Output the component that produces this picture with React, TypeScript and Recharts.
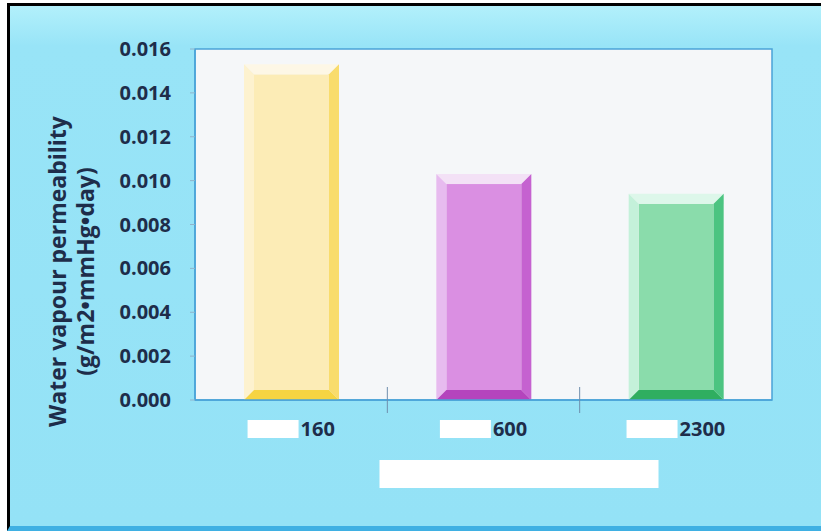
import { BarChart, Bar, XAxis, YAxis, CartesianGrid, ReferenceArea } from 'recharts'

const categories = ['160', '600', '2300']
const permeability = [0.0153, 0.0103, 0.0094]
const yTicks = [0, 0.002, 0.004, 0.006, 0.008, 0.01, 0.012, 0.014, 0.016]
const yTitle = ['Water vapour permeability', '(g/m2\u2022mmHg\u2022day)']

// bevelled bar colours: body, top, left, right, bottom
const BAR_STYLES = [
  { body: '#fcecb6', top: '#fdf7e6', left: '#fdf2cf', right: '#f9dc6c', bottom: '#f6d442' }, // yellow
  { body: '#da8fe2', top: '#f3e1f6', left: '#e7bbef', right: '#c562d0', bottom: '#b444bd' }, // purple
  { body: '#8adcab', top: '#ddf7ea', left: '#c4f1da', right: '#4cc481', bottom: '#2fae60' }, // green
]

const INK = '#1e2d4a'
const FONT = '"Open Sans", sans-serif'
const BLUE_LINE = '#4aa3d8'

const data = categories.map((name, i) => ({ name, value: permeability[i] }))

function BevelBar(props: any) {
  const { x, y, width: w, height: h, index } = props
  const c = BAR_STYLES[index % BAR_STYLES.length]
  const b = 10
  return (
    <g>
      <rect x={x + b} y={y + b} width={w - 2 * b} height={h - 2 * b} fill={c.body} />
      <polygon points={`${x},${y} ${x + w},${y} ${x + w - b},${y + b} ${x + b},${y + b}`} fill={c.top} />
      <polygon points={`${x},${y} ${x + b},${y + b} ${x + b},${y + h - b} ${x},${y + h}`} fill={c.left} />
      <polygon points={`${x + w},${y} ${x + w},${y + h} ${x + w - b},${y + h - b} ${x + w - b},${y + b}`} fill={c.right} />
      <polygon points={`${x},${y + h} ${x + b},${y + h - b} ${x + w - b},${y + h - b} ${x + w},${y + h}`} fill={c.bottom} />
    </g>
  )
}

function CategoryTick(props: any) {
  const { x, y, payload, index } = props
  const label = String(payload.value)
  const half = payload.offset ?? 96
  const boxW = 51
  const textW = label.length * 11.4
  const start = x - (boxW + 2 + textW) / 2
  return (
    <g>
      {index > 0 && <line x1={x - half} x2={x - half} y1={y - 13} y2={y + 13} stroke="#6f8fae" strokeWidth={1} />}
      <rect x={start} y={y + 20} width={boxW} height={18} fill="#ffffff" />
      <text x={start + boxW + 2} y={y + 36} fontSize={20} fontWeight={700} fontFamily={FONT} fill={INK}>
        {label}
      </text>
    </g>
  )
}

function YTitle(props: any) {
  const { viewBox } = props
  const cy = viewBox.y + viewBox.height / 2 + 47
  return (
    <g>
      {yTitle.map((line, i) => {
        const tx = 66 + i * 28
        return (
          <text
            key={line}
            x={tx}
            y={cy}
            transform={`rotate(-90 ${tx} ${cy})`}
            textAnchor="middle"
            fontSize={23}
            fontWeight={700}
            fontFamily={FONT}
            fill={INK}
          >
            {line}
          </text>
        )
      })}
    </g>
  )
}

function XTitleBox(props: any) {
  const { viewBox } = props
  return <rect x={viewBox.x + viewBox.width / 2 - 104} y={viewBox.y + 60} width={279} height={28} fill="#ffffff" />
}

export default function App() {
  return (
    <div style={{ position: 'absolute', left: 0, top: 0, width: 821, height: 531, background: '#ffffff' }}>
      <div
        style={{
          position: 'absolute',
          left: 7,
          top: 3,
          width: 811,
          height: 520,
          borderTop: '3px solid #000',
          borderLeft: '3px solid #000',
          borderRight: '3px solid #3fb0e3',
          borderBottom: '5px solid #3fb0e3',
          background: 'linear-gradient(180deg, #b2f0fb 0px, #98e4f7 40px, #94e2f6 100%)',
        }}
      />
      <div style={{ position: 'absolute', left: 0, top: 0 }}>
        <BarChart width={821} height={531} data={data} margin={{ top: 49, right: 49, bottom: 0, left: 0 }} barSize={95}>
          <CartesianGrid fill="#f5f7f9" horizontal={false} vertical={false} />
          <ReferenceArea y1={0} y2={0.016} fill="none" stroke={BLUE_LINE} strokeWidth={1.5} />
          <XAxis
            dataKey="name"
            height={131}
            axisLine={{ stroke: BLUE_LINE, strokeWidth: 1.5 }}
            tickLine={false}
            tickSize={0}
            tickMargin={0}
            tick={<CategoryTick />}
            label={<XTitleBox />}
          />
          <YAxis
            width={195}
            domain={[0, 0.016]}
            ticks={yTicks}
            tickFormatter={(v: number) => v.toFixed(3)}
            axisLine={{ stroke: BLUE_LINE, strokeWidth: 1.5 }}
            tickLine={{ stroke: '#8fb4cc' }}
            tickSize={5}
            tickMargin={19}
            tick={{ fontSize: 20, fontWeight: 700, fontFamily: FONT, fill: INK }}
            label={<YTitle />}
          />
          <Bar dataKey="value" shape={<BevelBar />} isAnimationActive={false} />
        </BarChart>
      </div>
    </div>
  )
}
